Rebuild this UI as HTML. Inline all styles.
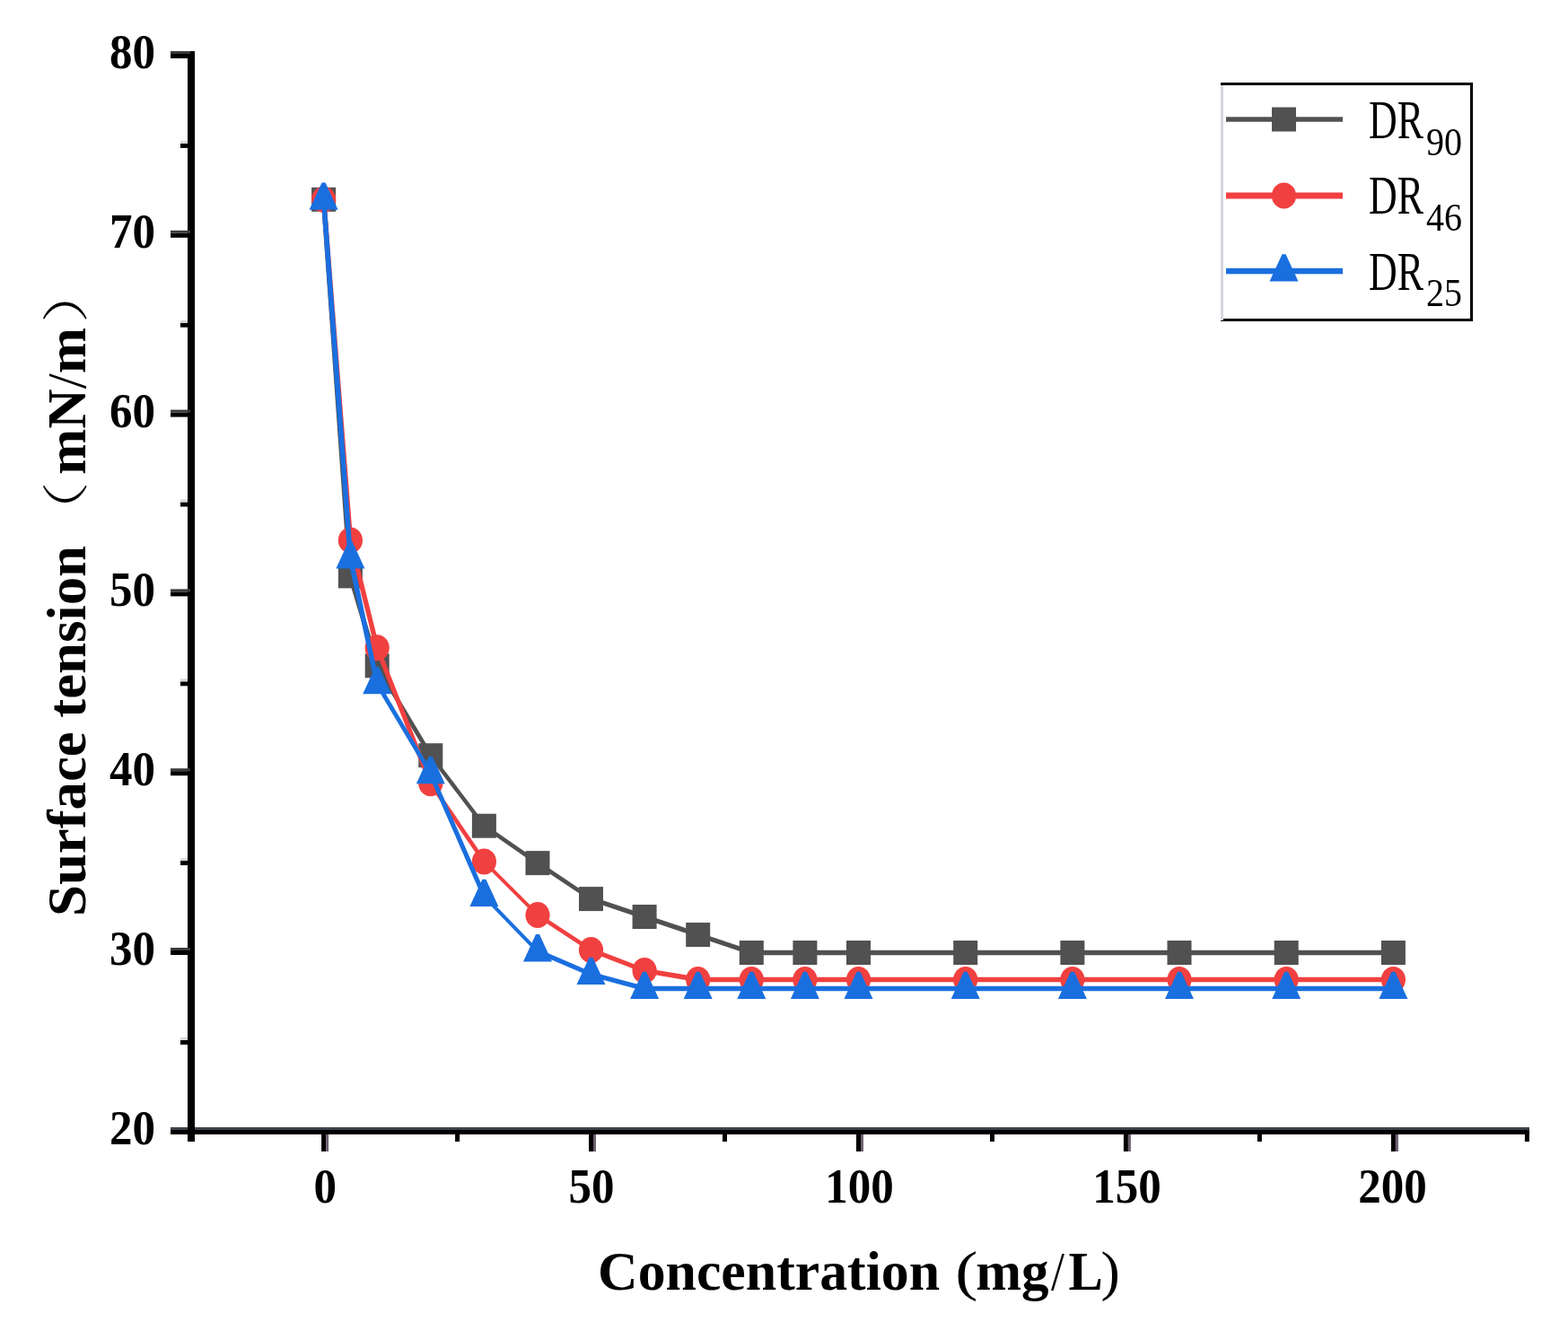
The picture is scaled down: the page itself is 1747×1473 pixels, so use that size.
<!DOCTYPE html>
<html><head><meta charset="utf-8"><title>Surface tension vs concentration</title>
<style>
html,body{margin:0;padding:0;background:#fff;}
svg{display:block;}
.tl{font-family:"Liberation Serif","Times New Roman",serif;font-weight:bold;font-size:51px;fill:#000;}
.lg{font-family:"Liberation Serif","Times New Roman",serif;font-size:61px;fill:#000;}
.lgs{font-family:"Liberation Serif","Times New Roman",serif;font-size:44.5px;fill:#000;}
.at{font-family:"Liberation Serif","Times New Roman",serif;font-weight:bold;font-size:61px;fill:#000;}
.nw{font-weight:normal;}
.cjk{font-family:"Liberation Serif","Noto Serif CJK SC",serif;font-weight:300;font-size:52px;}
</style></head>
<body>
<svg width="1747" height="1473" viewBox="0 0 1747 1473">
<rect width="1747" height="1473" fill="#fff"/>
<g fill="#000">
<rect x="190" y="1256" width="1514" height="3" fill="#3e434b"/>
<rect x="209" y="57" width="8" height="1215"/>
<rect x="190" y="1259" width="1514" height="5"/>
<rect x="190" y="1059.0" width="22" height="5"/>
<rect x="190" y="1056.0" width="22" height="3" fill="#3a3a3a"/>
<rect x="190" y="859.2" width="22" height="5"/>
<rect x="190" y="856.2" width="22" height="3" fill="#3a3a3a"/>
<rect x="190" y="659.4" width="22" height="5"/>
<rect x="190" y="656.4" width="22" height="3" fill="#3a3a3a"/>
<rect x="190" y="459.6" width="22" height="5"/>
<rect x="190" y="456.6" width="22" height="3" fill="#3a3a3a"/>
<rect x="190" y="259.8" width="22" height="5"/>
<rect x="190" y="256.8" width="22" height="3" fill="#3a3a3a"/>
<rect x="190" y="60.0" width="22" height="5"/>
<rect x="190" y="57.0" width="22" height="3" fill="#3a3a3a"/>
<rect x="201" y="1158.9" width="10" height="5"/>
<rect x="201" y="1155.9" width="8" height="3" fill="#ddd6d2"/>
<rect x="201" y="959.1" width="10" height="5"/>
<rect x="201" y="956.1" width="8" height="3" fill="#ddd6d2"/>
<rect x="201" y="759.3" width="10" height="5"/>
<rect x="201" y="756.3" width="8" height="3" fill="#ddd6d2"/>
<rect x="201" y="559.5" width="10" height="5"/>
<rect x="201" y="556.5" width="8" height="3" fill="#ddd6d2"/>
<rect x="201" y="359.7" width="10" height="5"/>
<rect x="201" y="356.7" width="8" height="3" fill="#ddd6d2"/>
<rect x="201" y="159.9" width="10" height="5"/>
<rect x="201" y="156.9" width="8" height="3" fill="#ddd6d2"/>
<rect x="358.1" y="1262" width="5" height="21"/>
<rect x="363.1" y="1264" width="3" height="19" fill="#6b6070"/>
<rect x="656.0" y="1262" width="5" height="21"/>
<rect x="661.0" y="1264" width="3" height="19" fill="#6b6070"/>
<rect x="954.0" y="1262" width="5" height="21"/>
<rect x="959.0" y="1264" width="3" height="19" fill="#6b6070"/>
<rect x="1251.9" y="1262" width="5" height="21"/>
<rect x="1256.9" y="1264" width="3" height="19" fill="#6b6070"/>
<rect x="1549.9" y="1262" width="5" height="21"/>
<rect x="1554.9" y="1264" width="3" height="19" fill="#6b6070"/>
<rect x="507.1" y="1262" width="5" height="10"/>
<rect x="805.0" y="1262" width="5" height="10"/>
<rect x="1103.0" y="1262" width="5" height="10"/>
<rect x="1400.9" y="1262" width="5" height="10"/>
<rect x="1698.9" y="1262" width="5" height="10"/>
</g>
<text class="tl" transform="translate(173,1274.8) scale(1,1.06)" text-anchor="end">20</text>
<text class="tl" transform="translate(173,1075.0) scale(1,1.06)" text-anchor="end">30</text>
<text class="tl" transform="translate(173,875.2) scale(1,1.06)" text-anchor="end">40</text>
<text class="tl" transform="translate(173,675.4) scale(1,1.06)" text-anchor="end">50</text>
<text class="tl" transform="translate(173,475.6) scale(1,1.06)" text-anchor="end">60</text>
<text class="tl" transform="translate(173,275.8) scale(1,1.06)" text-anchor="end">70</text>
<text class="tl" transform="translate(173,76.0) scale(1,1.06)" text-anchor="end">80</text>
<text class="tl" transform="translate(362.3,1340) scale(1,1.06)" text-anchor="middle">0</text>
<text class="tl" transform="translate(659.0,1340) scale(1,1.06)" text-anchor="middle">50</text>
<text class="tl" transform="translate(957.5,1340) scale(1,1.06)" text-anchor="middle">100</text>
<text class="tl" transform="translate(1255.4,1340) scale(1,1.06)" text-anchor="middle">150</text>
<text class="tl" transform="translate(1551.5,1340) scale(1,1.06)" text-anchor="middle">200</text>
<g fill="#515151"><polygon points="357.80,222.34 387.60,641.92 393.20,641.92 363.40,222.34"/><polygon points="387.60,641.92 417.39,741.82 422.99,741.82 393.20,641.92"/><polygon points="417.39,741.82 476.98,841.72 482.58,841.72 422.99,741.82"/><polygon points="476.98,841.72 536.57,920.24 542.17,920.24 482.58,841.72"/><polygon points="539.37,917.44 598.96,958.80 598.96,964.40 539.37,923.04"/><polygon points="598.96,958.80 658.55,998.76 658.55,1004.36 598.96,964.40"/><polygon points="658.55,998.76 718.14,1018.74 718.14,1024.34 658.55,1004.36"/><polygon points="718.14,1018.74 777.73,1038.72 777.73,1044.32 718.14,1024.34"/><polygon points="777.73,1038.72 837.32,1058.70 837.32,1064.30 777.73,1044.32"/><polygon points="837.32,1058.70 896.91,1058.70 896.91,1064.30 837.32,1064.30"/><polygon points="896.91,1058.70 956.50,1058.70 956.50,1064.30 896.91,1064.30"/><polygon points="956.50,1058.70 1075.68,1058.70 1075.68,1064.30 956.50,1064.30"/><polygon points="1075.68,1058.70 1194.86,1058.70 1194.86,1064.30 1075.68,1064.30"/><polygon points="1194.86,1058.70 1314.04,1058.70 1314.04,1064.30 1194.86,1064.30"/><polygon points="1314.04,1058.70 1433.22,1058.70 1433.22,1064.30 1314.04,1064.30"/><polygon points="1433.22,1058.70 1552.40,1058.70 1552.40,1064.30 1433.22,1064.30"/></g>
<g fill="#515151"><rect x="347.1" y="208.8" width="27" height="27"/><rect x="376.9" y="628.4" width="27" height="27"/><rect x="406.7" y="728.3" width="27" height="27"/><rect x="466.3" y="828.2" width="27" height="27"/><rect x="525.9" y="906.7" width="27" height="27"/><rect x="585.5" y="948.1" width="27" height="27"/><rect x="645.0" y="988.1" width="27" height="27"/><rect x="704.6" y="1008.0" width="27" height="27"/><rect x="764.2" y="1028.0" width="27" height="27"/><rect x="823.8" y="1048.0" width="27" height="27"/><rect x="883.4" y="1048.0" width="27" height="27"/><rect x="943.0" y="1048.0" width="27" height="27"/><rect x="1062.2" y="1048.0" width="27" height="27"/><rect x="1181.4" y="1048.0" width="27" height="27"/><rect x="1300.5" y="1048.0" width="27" height="27"/><rect x="1419.7" y="1048.0" width="27" height="27"/><rect x="1538.9" y="1048.0" width="27" height="27"/></g>
<g fill="#F14040"><polygon points="357.80,222.34 387.60,601.96 393.20,601.96 363.40,222.34"/><polygon points="387.60,601.96 417.39,721.84 422.99,721.84 393.20,601.96"/><polygon points="417.39,721.84 476.98,872.69 482.58,872.69 422.99,721.84"/><polygon points="476.98,872.69 536.57,960.00 542.17,960.00 482.58,872.69"/><polygon points="539.37,957.20 598.96,1016.74 598.96,1022.34 539.37,962.80"/><polygon points="598.96,1016.74 658.55,1055.70 658.55,1061.30 598.96,1022.34"/><polygon points="658.55,1055.70 718.14,1078.68 718.14,1084.28 658.55,1061.30"/><polygon points="718.14,1078.68 777.73,1088.67 777.73,1094.27 718.14,1084.28"/><polygon points="777.73,1088.67 837.32,1088.67 837.32,1094.27 777.73,1094.27"/><polygon points="837.32,1088.67 896.91,1088.67 896.91,1094.27 837.32,1094.27"/><polygon points="896.91,1088.67 956.50,1088.67 956.50,1094.27 896.91,1094.27"/><polygon points="956.50,1088.67 1075.68,1088.67 1075.68,1094.27 956.50,1094.27"/><polygon points="1075.68,1088.67 1194.86,1088.67 1194.86,1094.27 1075.68,1094.27"/><polygon points="1194.86,1088.67 1314.04,1088.67 1314.04,1094.27 1194.86,1094.27"/><polygon points="1314.04,1088.67 1433.22,1088.67 1433.22,1094.27 1314.04,1094.27"/><polygon points="1433.22,1088.67 1552.40,1088.67 1552.40,1094.27 1433.22,1094.27"/></g>
<g fill="#F14040"><ellipse cx="360.6" cy="222.3" rx="13.6" ry="14.6"/><ellipse cx="390.4" cy="602.0" rx="13.6" ry="14.6"/><ellipse cx="420.2" cy="721.8" rx="13.6" ry="14.6"/><ellipse cx="479.8" cy="872.7" rx="13.6" ry="14.6"/><ellipse cx="539.4" cy="960.0" rx="13.6" ry="14.6"/><ellipse cx="599.0" cy="1019.5" rx="13.6" ry="14.6"/><ellipse cx="658.5" cy="1058.5" rx="13.6" ry="14.6"/><ellipse cx="718.1" cy="1081.5" rx="13.6" ry="14.6"/><ellipse cx="777.7" cy="1091.5" rx="13.6" ry="14.6"/><ellipse cx="837.3" cy="1091.5" rx="13.6" ry="14.6"/><ellipse cx="896.9" cy="1091.5" rx="13.6" ry="14.6"/><ellipse cx="956.5" cy="1091.5" rx="13.6" ry="14.6"/><ellipse cx="1075.7" cy="1091.5" rx="13.6" ry="14.6"/><ellipse cx="1194.9" cy="1091.5" rx="13.6" ry="14.6"/><ellipse cx="1314.0" cy="1091.5" rx="13.6" ry="14.6"/><ellipse cx="1433.2" cy="1091.5" rx="13.6" ry="14.6"/><ellipse cx="1552.4" cy="1091.5" rx="13.6" ry="14.6"/></g>
<g fill="#1A6FDF"><polygon points="357.80,222.34 387.60,621.94 393.20,621.94 363.40,222.34"/><polygon points="387.60,621.94 417.39,761.80 422.99,761.80 393.20,621.94"/><polygon points="417.39,761.80 476.98,861.70 482.58,861.70 422.99,761.80"/><polygon points="476.98,861.70 536.57,998.56 542.17,998.56 482.58,861.70"/><polygon points="536.57,998.56 596.16,1059.90 601.76,1059.90 542.17,998.56"/><polygon points="598.96,1057.10 658.55,1082.68 658.55,1088.28 598.96,1062.70"/><polygon points="658.55,1082.68 718.14,1098.66 718.14,1104.26 658.55,1088.28"/><polygon points="718.14,1098.66 777.73,1098.66 777.73,1104.26 718.14,1104.26"/><polygon points="777.73,1098.66 837.32,1098.66 837.32,1104.26 777.73,1104.26"/><polygon points="837.32,1098.66 896.91,1098.66 896.91,1104.26 837.32,1104.26"/><polygon points="896.91,1098.66 956.50,1098.66 956.50,1104.26 896.91,1104.26"/><polygon points="956.50,1098.66 1075.68,1098.66 1075.68,1104.26 956.50,1104.26"/><polygon points="1075.68,1098.66 1194.86,1098.66 1194.86,1104.26 1075.68,1104.26"/><polygon points="1194.86,1098.66 1314.04,1098.66 1314.04,1104.26 1194.86,1104.26"/><polygon points="1314.04,1098.66 1433.22,1098.66 1433.22,1104.26 1314.04,1104.26"/><polygon points="1433.22,1098.66 1552.40,1098.66 1552.40,1104.26 1433.22,1104.26"/></g>
<g fill="#1A6FDF"><polygon points="358.6,203.5 362.6,203.5 376.6,233.8 344.6,233.8"/><polygon points="388.4,603.1 392.4,603.1 406.4,633.4 374.4,633.4"/><polygon points="418.2,743.0 422.2,743.0 436.2,773.3 404.2,773.3"/><polygon points="477.8,842.9 481.8,842.9 495.8,873.2 463.8,873.2"/><polygon points="537.4,979.8 541.4,979.8 555.4,1010.1 523.4,1010.1"/><polygon points="597.0,1041.1 601.0,1041.1 615.0,1071.4 583.0,1071.4"/><polygon points="656.5,1066.7 660.5,1066.7 674.5,1097.0 642.5,1097.0"/><polygon points="716.1,1082.7 720.1,1082.7 734.1,1113.0 702.1,1113.0"/><polygon points="775.7,1082.7 779.7,1082.7 793.7,1113.0 761.7,1113.0"/><polygon points="835.3,1082.7 839.3,1082.7 853.3,1113.0 821.3,1113.0"/><polygon points="894.9,1082.7 898.9,1082.7 912.9,1113.0 880.9,1113.0"/><polygon points="954.5,1082.7 958.5,1082.7 972.5,1113.0 940.5,1113.0"/><polygon points="1073.7,1082.7 1077.7,1082.7 1091.7,1113.0 1059.7,1113.0"/><polygon points="1192.9,1082.7 1196.9,1082.7 1210.9,1113.0 1178.9,1113.0"/><polygon points="1312.0,1082.7 1316.0,1082.7 1330.0,1113.0 1298.0,1113.0"/><polygon points="1431.2,1082.7 1435.2,1082.7 1449.2,1113.0 1417.2,1113.0"/><polygon points="1550.4,1082.7 1554.4,1082.7 1568.4,1113.0 1536.4,1113.0"/></g>
<rect x="1361.5" y="93.5" width="278" height="263" fill="none" stroke="#000" stroke-width="3"/>
<rect x="1360" y="95" width="3" height="262" fill="#d8d4dc"/>
<rect x="1366" y="130.3" width="130" height="5.4" fill="#515151"/>
<rect x="1417.0" y="119.5" width="27" height="27" fill="#515151"/>
<rect x="1366" y="214.5" width="130" height="7" fill="#F14040"/>
<ellipse cx="1430.5" cy="218" rx="13.6" ry="14.6" fill="#F14040"/>
<rect x="1366" y="298.8" width="130" height="6.5" fill="#1A6FDF"/>
<g fill="#1A6FDF"><polygon points="1428.5,283.2 1432.5,283.2 1446.5,313.5 1414.5,313.5"/></g>
<text class="lg" x="1525" y="153.8" textLength="61" lengthAdjust="spacingAndGlyphs">DR</text>
<text class="lgs" x="1589" y="173.3" textLength="40" lengthAdjust="spacingAndGlyphs">90</text>
<text class="lg" x="1525" y="238.3" textLength="61" lengthAdjust="spacingAndGlyphs">DR</text>
<text class="lgs" x="1589" y="257.3" textLength="40" lengthAdjust="spacingAndGlyphs">46</text>
<text class="lg" x="1525" y="322.6" textLength="61" lengthAdjust="spacingAndGlyphs">DR</text>
<text class="lgs" x="1589" y="340.9" textLength="40" lengthAdjust="spacingAndGlyphs">25</text>
<text class="at" transform="translate(666,1437.4) scale(1.0134,1)">Concentration</text>
<text class="at nw" transform="translate(1064.3,1437.4) scale(1.24,1)">(</text>
<text class="at" transform="translate(1087.3,1437.4) scale(1.0,1)">mg</text>
<text class="at nw" transform="translate(1171,1437.4) scale(0.88,1)">/</text>
<text class="at" transform="translate(1190.4,1437.4) scale(0.94,1)">L</text>
<text class="at nw" transform="translate(1226.6,1437.4) scale(1.05,1)">)</text>
<g transform="translate(95,1017) rotate(-90)">
<text class="at" x="-4" y="0" textLength="413" lengthAdjust="spacingAndGlyphs">Surface tension</text>
<text class="at cjk" transform="translate(413,-3) scale(1.3,1)">（</text>
<text class="at" x="488" y="0" textLength="164" lengthAdjust="spacingAndGlyphs">mN<tspan class="nw">/</tspan>m</text>
<text class="at cjk" transform="translate(657,-3) scale(1.3,1)">）</text>
</g>
</svg>
</body></html>
